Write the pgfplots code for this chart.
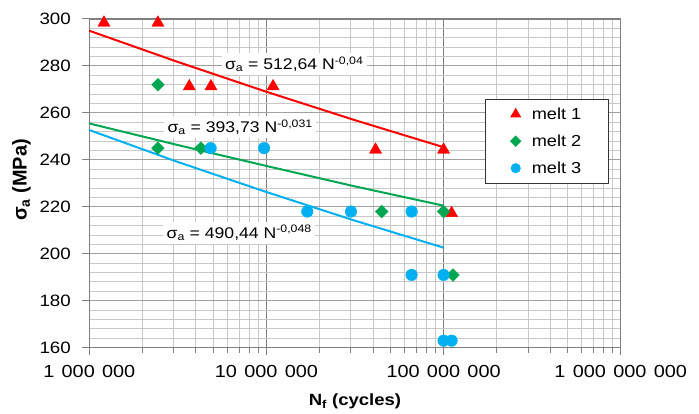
\documentclass[border=0pt]{standalone}
\usepackage{fontspec}
\setmainfont[FakeStretch=1.14]{Liberation Sans}
\newfontfamily\ylfont{Liberation Sans}
\usepackage{pgfplots}
\pgfplotsset{compat=1.18}
\definecolor{mred}{RGB}{255,0,0}
\definecolor{mgreen}{RGB}{0,166,81}
\definecolor{mblue}{RGB}{0,176,240}
\definecolor{gridmaj}{RGB}{128,128,128}
\definecolor{gridmin}{RGB}{200,200,200}
\newcommand{\ts}{\hspace{0.42em}}
\begin{document}
\begin{tikzpicture}
\begin{axis}[name=ax, scale only axis, width=531.4bp, height=328.7bp,
  xmode=log, xmin=1e6, xmax=1e9, ymin=160, ymax=300,
  ytick={160,180,...,300}, minor y tick num=4,
  xtick={1e6,1e7,1e8,1e9},
  xticklabels={1\ts000\ts000,10\ts000\ts000,100\ts000\ts000,1\ts000\ts000\ts000},
  /pgf/number format/assume math mode=true,
  font=\fontsize{16}{19}\selectfont,
  xticklabel style={yshift=-7bp, font=\fontsize{17.5}{20}\selectfont},
  yticklabel style={xshift=-8bp, font=\fontsize{16.5}{19}\selectfont},
  grid=both,
  major x grid style={draw=gridmaj, line width=1.5bp},
  minor x grid style={draw=gridmin, line width=1bp},
  major y grid style={draw=gridmaj!75, line width=1bp},
  minor y grid style={draw=gridmin, line width=1bp},
  axis line style={draw=gridmaj, line width=1.5bp},
  tick align=outside, xtick pos=bottom, ytick pos=left,
  major tick length=7bp, minor tick length=5bp,
  tick style={draw=gridmaj, line width=1bp},
  minor y tick style={draw=none},
  clip=false,
  every axis x label/.style={at={(axis description cs:0.5,-0.1643)}, anchor=center},
  every axis y label/.style={at={(axis description cs:-0.1276,0.51)}, rotate=90, anchor=center},
  xlabel={\fontsize{16.3}{19}\selectfont\bfseries N\textsubscript{f} (cycles)},
  ylabel={\ylfont\fontsize{20}{23}\selectfont\bfseries σ\textsubscript{a} (MPa)},
  legend style={at={(0.745,0.7575)}, anchor=north west, draw=black!80, line width=0.8bp,
    font=\fontsize{16}{19}\selectfont, inner xsep=25bp, inner ysep=6.5bp, row sep=10bp,
    /tikz/every odd column/.append style={column sep=9bp},
    cells={anchor=west}},
  legend image post style={scale=0.8},
  legend cell align=left,
]
% trend lines
\addplot[mred, line width=2bp, forget plot] coordinates {(1e6,295.0) (3.162e6,281.7) (1e7,269.0) (3.162e7,256.9) (1e8,245.4)};
\addplot[mgreen, line width=2bp, forget plot] coordinates {(1e6,255.5) (3.162e6,246.3) (1e7,237.4) (3.162e7,228.7) (1e8,220.5)};
\addplot[mblue, line width=2bp, forget plot] coordinates {(1e6,252.7) (3.162e6,239.1) (1e7,226.3) (3.162e7,214.1) (1e8,202.6)};
% data
\addplot[only marks, mark=triangle*, mark size=7bp, color=mred, mark options={draw=mred, fill=mred}]
  coordinates {(1.21e6,298.4) (2.44e6,298.4) (3.67e6,271.3) (4.86e6,271.3) (1.09e7,271.3) (4.13e7,244.3) (1.0e8,244.3) (1.11e8,217.3)};
\addlegendentry{melt 1}
\addplot[only marks, mark=square*, mark size=4.5bp, color=mgreen, mark options={draw=mgreen, fill=mgreen, rotate=45}]
  coordinates {(2.44e6,272) (2.44e6,245) (4.26e6,245) (4.47e7,218) (1.0e8,218) (1.13e8,191)};
\addlegendentry{melt 2}
\addplot[only marks, mark=*, mark size=5.8bp, color=mblue, mark options={draw=mblue, fill=mblue}]
  coordinates {(4.84e6,245) (9.7e6,245) (1.70e7,218) (3.0e7,218) (6.6e7,218) (6.6e7,191) (1.0e8,191) (1.0e8,163) (1.11e8,163)};
\addlegendentry{melt 3}
% equation labels
\node[fill=white, inner sep=3.5bp, font=\fontsize{15.5}{18}\selectfont] at (axis cs:1.436e7,280.85) {σ\textsubscript{a} = 512,64 N\textsuperscript{-0,04}};
\node[fill=white, inner sep=3.5bp, font=\fontsize{15.5}{18}\selectfont] at (axis cs:7.11e6,254.0) {σ\textsubscript{a} = 393,73 N\textsuperscript{-0,031}};
\node[fill=white, inner sep=3.5bp, font=\fontsize{15.5}{18}\selectfont] at (axis cs:7.02e6,208.9) {σ\textsubscript{a} = 490,44 N\textsuperscript{-0,048}};
\end{axis}
\pgfresetboundingbox
\path ([shift={(-89.3bp,-66.3bp)}]ax.south west) rectangle ([shift={(78.3bp,19bp)}]ax.north east);
\end{tikzpicture}
\end{document}
